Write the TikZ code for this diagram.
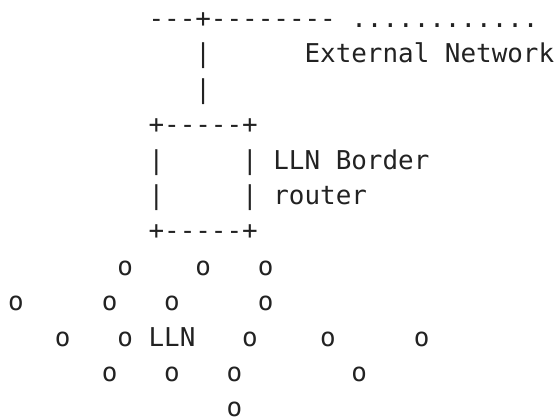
\documentclass[tikz,border=0pt]{standalone}
\usepackage{fontspec}
\setmonofont{DejaVu Sans Mono}
\definecolor{ink}{HTML}{222222}

\begin{document}
\begin{tikzpicture}[x=7.8pt, y=-17.7pt,
    ascii/.style={anchor=base west, inner sep=0pt, outer sep=0pt, text=ink,
                  font=\ttfamily\fontsize{12.96pt}{17.7pt}\selectfont}]

         \useasboundingbox (-0.526,-0.78) rectangle (35.12,11.06);

         % external network
         \node [ascii] (uplink)    at (9,0)   {---+--------};
         \node [ascii] (extdots)   at (22,0)  {............};
         \node [ascii] (uplinkbar) at (12,1)  {|};
         \node [ascii] (extlabel)  at (19,1)  {External Network};
         \node [ascii] (downlink)  at (12,2)  {|};

         % border router
         \node [ascii] (brtop)     at (9,3)   {+-----+};
         \node [ascii] (brleft)    at (9,4)   {|};
         \node [ascii] (brright)   at (15,4)  {|};
         \node [ascii] (brlabel)   at (17,4)  {LLN Border};
         \node [ascii] (brleftb)   at (9,5)   {|};
         \node [ascii] (brrightb)  at (15,5)  {|};
         \node [ascii] (brlabelb)  at (17,5)  {router};
         \node [ascii] (brbottom)  at (9,6)   {+-----+};

         % LLN nodes
         \node [ascii] (n1)  at (7,7)   {o};
         \node [ascii] (n2)  at (12,7)  {o};
         \node [ascii] (n3)  at (16,7)  {o};
         \node [ascii] (n4)  at (0,8)   {o};
         \node [ascii] (n5)  at (6,8)   {o};
         \node [ascii] (n6)  at (10,8)  {o};
         \node [ascii] (n7)  at (16,8)  {o};
         \node [ascii] (n8)  at (3,9)   {o};
         \node [ascii] (n9)  at (7,9)   {o};
         \node [ascii] (lln) at (9,9)   {LLN};
         \node [ascii] (n10) at (15,9)  {o};
         \node [ascii] (n11) at (20,9)  {o};
         \node [ascii] (n12) at (26,9)  {o};
         \node [ascii] (n13) at (6,10)  {o};
         \node [ascii] (n14) at (10,10) {o};
         \node [ascii] (n15) at (14,10) {o};
         \node [ascii] (n16) at (22,10) {o};
         \node [ascii] (n17) at (14,11) {o};

        \end{tikzpicture}
\end{document}
